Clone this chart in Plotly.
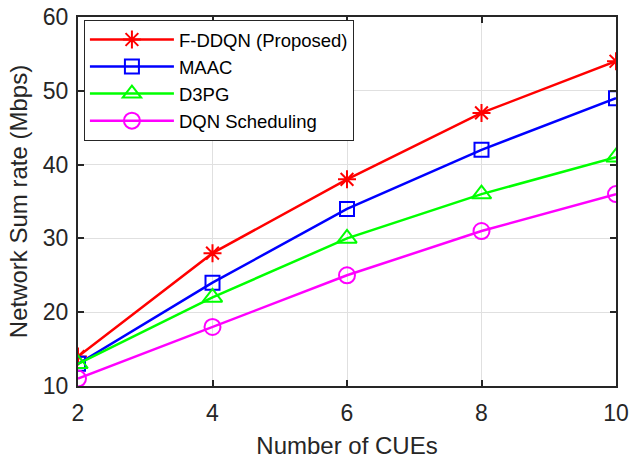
import plotly.graph_objects as go

cues = [2, 4, 6, 8, 10]
fddqn = [14, 28, 38, 47, 54]
maac = [13, 24, 34, 42, 49]
d3pg = [13, 22, 30, 36, 41]
dqn = [11, 18, 25, 31, 36]

names = ["F-DDQN (Proposed)", "MAAC", "D3PG", "DQN Scheduling"]
colors = ["#FF0000", "#0000FF", "#00FF00", "#FF00FF"]
symbols = ["asterisk-open", "square-open", "triangle-up-open", "circle-open"]
sizes = [15, 14, 17, 16]
series = [fddqn, maac, d3pg, dqn]

FONT = "Liberation Sans, Arial"
TXT = "#262626"

fig = go.Figure()
for n, c, s, sz, y in zip(names, colors, symbols, sizes, series):
    fig.add_trace(go.Scatter(
        x=cues, y=y, name=n, mode="lines+markers",
        line=dict(color=c, width=2.5),
        marker=dict(symbol=s, size=sz, color=c, line=dict(color=c, width=2)),
    ))

axis_common = dict(
    showline=True, linecolor=TXT, linewidth=2, mirror="allticks",
    ticks="inside", ticklen=6, tickwidth=1.5, tickcolor=TXT,
    showgrid=True, gridcolor="#E0E0E0", gridwidth=1,
    zeroline=False, automargin=False, ticklabeloverflow="allow",
    tickfont=dict(family=FONT, size=23, color=TXT),
)

fig.update_xaxes(range=[2, 10], tickvals=[2, 4, 6, 8, 10], ticklabelstandoff=5,
                 title=dict(text="Number of CUEs", font=dict(family=FONT, size=24, color=TXT), standoff=14),
                 **axis_common)
fig.update_yaxes(range=[10, 60], tickvals=[10, 20, 30, 40, 50, 60], ticklabelstandoff=3,
                 title=dict(text="Network Sum rate (Mbps)", font=dict(family=FONT, size=24, color=TXT), standoff=8),
                 **axis_common)

fig.update_layout(
    width=631, height=459,
    margin=dict(l=78, r=15, t=17, b=73),
    plot_bgcolor="white", paper_bgcolor="white",
    legend=dict(
        x=0.011, y=0.992, xanchor="left", yanchor="top",
        bgcolor="white", bordercolor=TXT, borderwidth=1,
        font=dict(family=FONT, size=18.5, color="black"),
        tracegroupgap=0, itemwidth=84,
    ),
    showlegend=True,
)

# remove the page's default 8px body margin so the figure fills the window
fig.write_html("out.html", config={"displayModeBar": False},
               post_script="document.body.style.margin='0';")
